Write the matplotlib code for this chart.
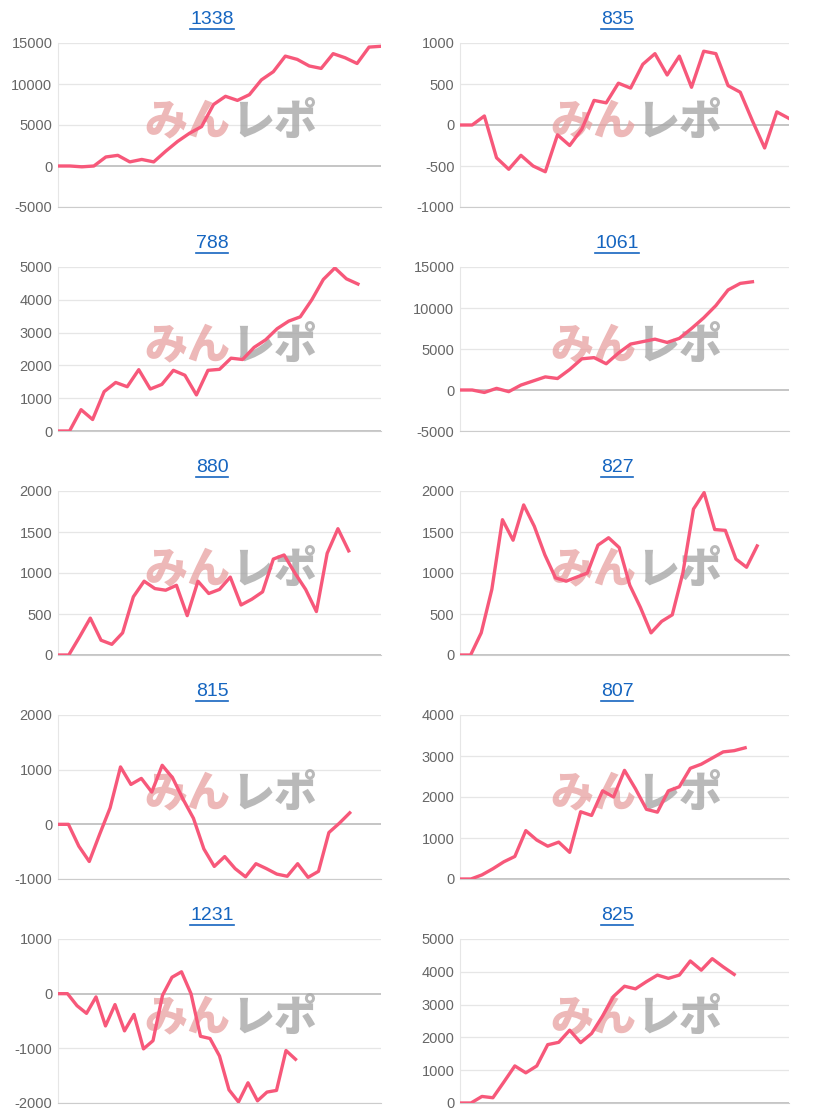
import matplotlib
matplotlib.use("Agg")
import matplotlib.pyplot as plt
from matplotlib.lines import Line2D

plt.rcParams['font.family'] = ['Roboto', 'Noto Sans CJK JP', 'DejaVu Sans']

# タイトル、カテゴリ数、値、y軸範囲
titles = ["1338", "835", "788", "1061", "880", "827", "815", "807", "1231", "825"]
n_cats = [28, 28, 29, 28, 31, 32, 32, 31, 35, 31]

s1338 = [0, 0, -100, 0, 1100, 1300, 500, 800, 500, 1800, 3000, 4000, 4800, 7500,
         8500, 8000, 8700, 10500, 11500, 13400, 13000, 12200, 11900, 13700, 13200,
         12500, 14500, 14600]
s835 = [0, 0, 110, -400, -540, -370, -500, -570, -120, -250, -50, 300, 270, 510, 450,
        740, 870, 610, 840, 460, 900, 870, 480, 400, 50, -280, 160, 80]
s788 = [0, 0, 650, 350, 1200, 1480, 1350, 1870, 1280, 1420, 1850, 1700, 1100, 1850,
        1880, 2220, 2180, 2550, 2780, 3120, 3350, 3480, 4000, 4620, 4970, 4640, 4480]
s1061 = [0, 0, -300, 200, -200, 600, 1100, 1600, 1400, 2500, 3800, 3950, 3200, 4500,
         5600, 5900, 6200, 5800, 6300, 7500, 8800, 10300, 12200, 13000, 13200]
s880 = [0, 0, 220, 450, 180, 130, 270, 710, 900, 810, 790, 850, 480, 900, 750, 800,
        950, 610, 680, 770, 1170, 1220, 1000, 800, 530, 1240, 1540, 1270]
s827 = [0, 0, 270, 800, 1650, 1400, 1830, 1570, 1220, 940, 900, 950, 1000, 1340, 1430,
        1310, 850, 580, 270, 410, 490, 1000, 1780, 1980, 1530, 1520, 1170, 1070, 1330]
s815 = [0, 0, -400, -680, -180, 300, 1050, 730, 840, 590, 1080, 850, 460, 110, -450,
        -770, -590, -810, -960, -720, -810, -910, -950, -720, -970, -860, -150, 20, 210]
s807 = [0, 0, 100, 250, 420, 550, 1180, 950, 800, 900, 650, 1640, 1550, 2150, 2000,
        2650, 2200, 1700, 1630, 2150, 2250, 2700, 2800, 2950, 3100, 3130, 3200]
s1231 = [0, 0, -220, -360, -60, -590, -200, -680, -380, -1010, -860, -30, 300, 400, 0,
         -780, -820, -1140, -1760, -1980, -1630, -1960, -1800, -1770, -1040, -1200]
s825 = [0, 0, 200, 160, 640, 1130, 920, 1130, 1780, 1850, 2220, 1840, 2120, 2650, 3250,
        3560, 3480, 3700, 3900, 3800, 3900, 4330, 4050, 4400, 4150, 3920]
series = [s1338, s835, s788, s1061, s880, s827, s815, s807, s1231, s825]

y_ranges = [(-5000, 15000, 5000), (-1000, 1000, 500), (0, 5000, 1000), (-5000, 15000, 5000),
            (0, 2000, 500), (0, 2000, 500), (-1000, 2000, 1000), (0, 4000, 1000),
            (-2000, 1000, 1000), (0, 5000, 1000)]

W, H = 814, 1120
fig = plt.figure(figsize=(W / 100, H / 100), dpi=100)

LINE = "#f7587a"
title_texts = []
for i, (title, n, vals, (lo, hi, step)) in enumerate(zip(titles, n_cats, series, y_ranges)):
    row, col = divmod(i, 2)
    left = 58 if col == 0 else 460
    right = 381 if col == 0 else 789
    top = 224 * row + 43
    bottom = 224 * row + 207
    ax = fig.add_axes([left / W, 1 - bottom / H, (right - left) / W, (bottom - top) / H])
    ax.set_xlim(0, n - 1)
    ax.set_ylim(lo, hi)
    yt = list(range(lo, hi + 1, step))
    ax.set_yticks(yt)
    ax.set_yticklabels([str(v) for v in yt], color="#666666", fontsize=10.5,
                       family=["Liberation Sans"])
    ax.set_xticks([])
    ax.tick_params(axis="y", length=0, pad=4)
    for v in yt:
        ax.axhline(v, color="#bbbbbb" if v == 0 else "#e6e6e6", lw=1.2 if v == 0 else 0.9,
                   zorder=1)
    for s in ["top", "right"]:
        ax.spines[s].set_visible(False)
    ax.spines["left"].set_color("#e6e6e6")
    ax.spines["bottom"].set_color("#cccccc")

    # ウォーターマーク
    ax.text(0.535, 0.52, "みん", transform=ax.transAxes, ha="right", va="center",
            fontsize=31, fontweight="black", color="#e8a0a0", alpha=0.75,
            family=["Noto Sans CJK JP"], zorder=2)
    ax.text(0.535, 0.52, "レポ", transform=ax.transAxes, ha="left", va="center",
            fontsize=31, fontweight="black", color="#a8a8a8", alpha=0.8,
            family=["Noto Sans CJK JP"], zorder=2)

    ax.plot(range(len(vals)), vals, color=LINE, lw=2.4, zorder=3)

    cx = (212 if col == 0 else 617) / W
    t = fig.text(cx, 1 - (224 * row + 19) / H, title, ha="center", va="center",
                 fontsize=14, color="#1565c0", family=["Liberation Sans"])
    title_texts.append(t)

fig.canvas.draw()
inv = fig.transFigure.inverted()
for t in title_texts:
    bb = t.get_window_extent().transformed(inv)
    y = bb.y0 - 0.001
    fig.add_artist(Line2D([bb.x0, bb.x1], [y, y], color="#1565c0", lw=1.2,
                          transform=fig.transFigure))

fig.savefig("out.png", dpi=100)
